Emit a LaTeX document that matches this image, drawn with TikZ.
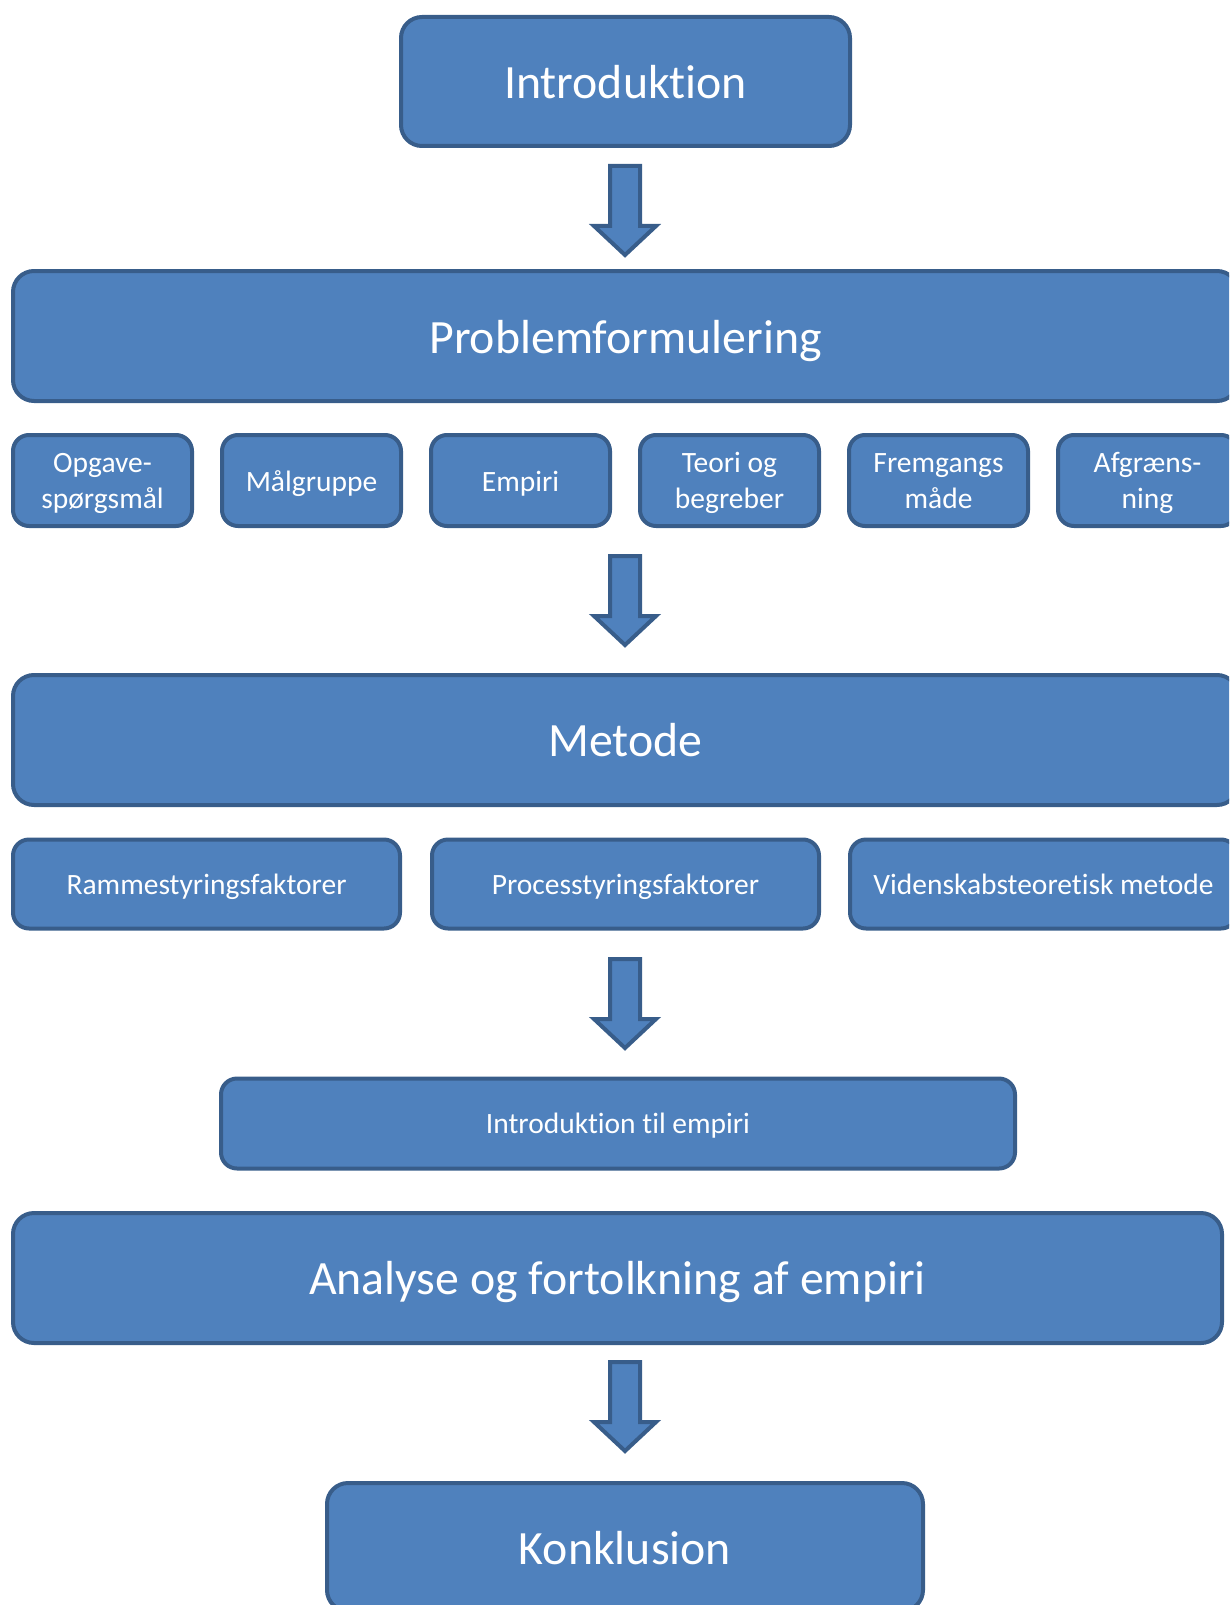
\documentclass[tikz,border=0pt]{standalone}
\usepackage{fontspec}
\setmainfont{Carlito}[Ligatures=NoCommon]
\definecolor{boxfill}{HTML}{4F81BD}
\definecolor{boxline}{HTML}{385D8A}
\tikzset{
  boxbase/.style={draw=boxline, fill=boxfill, line width=4pt, text=white, inner sep=0pt, align=center},
  bigbox/.style={boxbase, rounded corners=21pt, font=\fontsize{47.8}{57}\selectfont},
  smallbox/.style={boxbase, rounded corners=16pt, font=\fontsize{29.5}{35.5}\selectfont},
  blockarrow/.style={draw=boxline, fill=boxfill, line width=4pt, line join=miter},
}
\newcommand{\dn}[2][3pt]{\raisebox{-#1}[\height][\depth]{\begin{tabular}{@{}c@{}}#2\end{tabular}}}
\newcommand{\downarrowblock}[1]{%
  \draw[blockarrow] (#1) ++(-15,0) -- ++(30,0) -- ++(0,60) -- ++(16,0) -- ++(-31,29) -- ++(-31,-29) -- ++(16,0) -- cycle;}
\begin{document}
\begin{tikzpicture}[x=1pt,y=-1pt]
\useasboundingbox (0,0) rectangle (1229,1605);
\clip (0,0) rectangle (1229,1605);
% main boxes
\node[bigbox, minimum width=449pt, minimum height=129pt] (intro) at (625.5,81.5) {\dn[6pt]{Introduktion}};
\node[bigbox, minimum width=1225pt, minimum height=130pt] (prob) at (625.5,336) {\dn[6pt]{Problemformulering}};
% first row of sub boxes
\node[smallbox, minimum width=179pt, minimum height=91pt] (p1) at (102.5,480.5) {\dn{Opgave-\\spørgsmål}};
\node[smallbox, minimum width=179pt, minimum height=91pt] (p2) at (311.5,480.5) {\dn[4pt]{Målgruppe}};
\node[smallbox, minimum width=179pt, minimum height=91pt] (p3) at (520.5,480.5) {\dn[4pt]{Empiri}};
\node[smallbox, minimum width=179pt, minimum height=91pt] (p4) at (729.5,480.5) {\dn{Teori og\\begreber}};
\node[smallbox, minimum width=179pt, minimum height=91pt] (p5) at (938.5,480.5) {\dn{Fremgangs\\måde}};
\node[smallbox, minimum width=179pt, minimum height=91pt] (p6) at (1147.5,480.5) {\dn{Afgræns-\\ning}};
\node[bigbox, minimum width=1225pt, minimum height=130pt] (metode) at (625.5,740) {\dn[5.5pt]{Metode}};
% second row
\node[smallbox, minimum width=387pt, minimum height=89pt] (m1) at (206.5,884) {\dn{Rammestyringsfaktorer}};
\node[smallbox, minimum width=387pt, minimum height=89pt] (m2) at (625.5,884) {\dn{Processtyringsfaktorer}};
\node[smallbox, minimum width=387pt, minimum height=89pt] (m3) at (1043.5,884) {\dn{Videnskabsteoretisk metode}};
\node[smallbox, minimum width=794pt, minimum height=90pt] (iemp) at (618,1123.5) {\dn{Introduktion til empiri}};
\node[bigbox, minimum width=1209pt, minimum height=130pt] (analyse) at (617.5,1278) {\dn[5pt]{Analyse og fortolkning af empiri}};
\node[bigbox, minimum width=596pt, minimum height=128pt] (konk) at (625,1547) {\dn[6pt]{Konklusion}};
% block arrows
\coordinate (a1) at (625,166);
\coordinate (a2) at (625,556);
\coordinate (a3) at (625,959);
\coordinate (a4) at (625,1362);
\downarrowblock{a1}
\downarrowblock{a2}
\downarrowblock{a3}
\downarrowblock{a4}
\end{tikzpicture}
\end{document}
